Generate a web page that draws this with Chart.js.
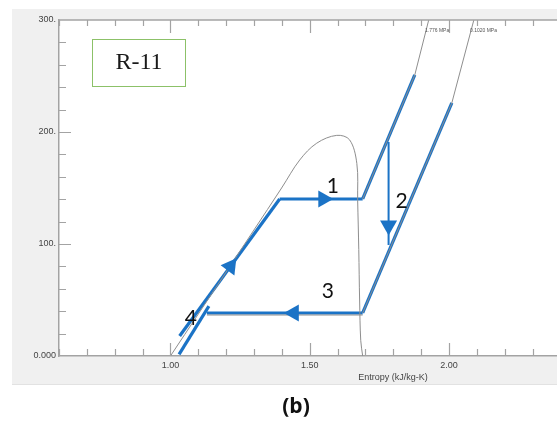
<!DOCTYPE html>
<html>
<head>
<meta charset="utf-8">
<script src="https://cdn.jsdelivr.net/npm/chart.js@4.4.0/dist/chart.umd.min.js"></script>
<style>
  html, body { margin: 0; padding: 0; background: #fff; }
  #wrap { position: relative; width: 557px; height: 421px; }
</style>
</head>
<body>
<div id="wrap"><canvas id="chart" width="557" height="421"></canvas></div>
<script>
// saturation dome (entropy kJ/kg-K, temperature)
const domeS = [1.0, 1.2, 1.399, 1.464, 1.525, 1.597, 1.643, 1.669, 1.672, 1.676, 1.679, 1.683, 1.69];
const domeT = [0, 75, 150, 175, 190, 197, 193, 172, 139, 95, 50, 14, 0];

// isobars (gray)
const iso1S = [1.69, 1.877, 1.927];
const iso1T = [140.2, 250.9, 300];
const iso2S = [1.69, 2.01, 2.089];
const iso2T = [38.4, 225.9, 300];
const isoFloorS = [1.131, 1.69];
const isoFloorT = [36.6, 36.6];

// cycle (blue)
const liquidS = [1.033, 1.392];
const liquidT = [17.9, 140.2];
const evapS = [1.392, 1.69];
const evapT = [140.2, 140.2];
const superS = [1.69, 1.877];
const superT = [140.2, 250.9];
const dropS = [1.783, 1.783];
const dropT = [191.1, 99.1];
const hotS = [1.69, 2.01];
const hotT = [38.4, 225.9];
const condS = [1.69, 1.131];
const condT = [38.4, 38.4];
const returnS = [1.031, 1.138];
const returnT = [1.5, 44.6];

// ticks
const xTickValues = [1.0, 1.5, 2.0];
const xTickLabels = ['1.00', '1.50', '2.00'];
const yTickValues = [0, 100, 200, 300];
const yTickLabels = ['0.000', '100.', '200.', '300.'];

const BLUE = '#1b73c6';
const GRAY = '#8e8e8e';
const AXIS = '#a3a3a3';

function pts(xs, ys) {
  return xs.map((x, i) => ({ x: x, y: ys[i] }));
}

function line(xs, ys, color, width, tension) {
  return {
    data: pts(xs, ys),
    showLine: true,
    borderColor: color,
    borderWidth: width,
    pointRadius: 0,
    tension: tension || 0,
    fill: false
  };
}

const datasets = [
  line(domeS, domeT, GRAY, 1, 0.35),
  line(iso1S, iso1T, GRAY, 1),
  line(iso2S, iso2T, GRAY, 1),
  line(isoFloorS, isoFloorT, GRAY, 1),
  line(liquidS, liquidT, BLUE, 3.2),
  line(evapS, evapT, BLUE, 3.2),
  line(superS, superT, BLUE, 3.2),
  line(dropS, dropT, BLUE, 2),
  line(hotS, hotT, BLUE, 3.2),
  line(condS, condT, BLUE, 3.2),
  line(returnS, returnT, BLUE, 3.2)
];

// arrow heads: dataset index and fraction along it
const arrows = [
  { ds: 4, t: 0.52 },
  { ds: 5, t: 0.55 },
  { ds: 7, t: 0.83 },
  { ds: 9, t: 0.455 }
];

const stateLabels = [
  { text: '1', s: 1.583, t: 152 },
  { text: '2', s: 1.83, t: 138 },
  { text: '3', s: 1.565, t: 58 },
  { text: '4', s: 1.073, t: 34 }
];

const decor = {
  id: 'decor',
  beforeDraw(chart) {
    const ctx = chart.ctx;
    const a = chart.chartArea;
    ctx.save();
    ctx.fillStyle = '#ffffff';
    ctx.fillRect(0, 0, chart.width, chart.height);
    ctx.fillStyle = '#f0f0f0';
    ctx.fillRect(12, 9, chart.width - 12, 376);
    ctx.fillStyle = '#e2e2e2';
    ctx.fillRect(12, 384, chart.width - 12, 1);
    ctx.fillStyle = '#ffffff';
    ctx.fillRect(a.left, a.top, a.right - a.left, a.bottom - a.top);
    ctx.restore();
  },
  afterDatasetsDraw(chart) {
    const ctx = chart.ctx;
    const xs = chart.scales.x;
    const ys = chart.scales.y;
    ctx.save();

    // arrows
    ctx.fillStyle = BLUE;
    arrows.forEach(ar => {
      const d = chart.data.datasets[ar.ds].data;
      const x0 = xs.getPixelForValue(d[0].x), y0 = ys.getPixelForValue(d[0].y);
      const x1 = xs.getPixelForValue(d[1].x), y1 = ys.getPixelForValue(d[1].y);
      const len = Math.hypot(x1 - x0, y1 - y0);
      const ux = (x1 - x0) / len, uy = (y1 - y0) / len;
      const cx = x0 + (x1 - x0) * ar.t, cy = y0 + (y1 - y0) * ar.t;
      const tipX = cx + ux * 8, tipY = cy + uy * 8;
      const bx = cx - ux * 7, by = cy - uy * 7;
      ctx.beginPath();
      ctx.moveTo(tipX, tipY);
      ctx.lineTo(bx - uy * 8.5, by + ux * 8.5);
      ctx.lineTo(bx + uy * 8.5, by - ux * 8.5);
      ctx.closePath();
      ctx.fill();
    });

    // state numbers
    ctx.fillStyle = '#111';
    ctx.font = '21px Lato, "Open Sans", sans-serif';
    ctx.textAlign = 'center';
    ctx.textBaseline = 'middle';
    stateLabels.forEach(l => {
      ctx.fillText(l.text, xs.getPixelForValue(l.s), ys.getPixelForValue(l.t));
    });

    // pressure labels on isobars
    ctx.fillStyle = '#555';
    ctx.font = '5px "Liberation Sans", sans-serif';
    ctx.textAlign = 'left';
    ctx.fillText('1.776 MPa', 425, 31);
    ctx.fillText('0.1020 MPa', 470, 31);

    // refrigerant box
    ctx.fillStyle = '#ffffff';
    ctx.fillRect(92, 39, 94, 48);
    ctx.strokeStyle = '#8cc168';
    ctx.lineWidth = 1;
    ctx.strokeRect(92.5, 39.5, 93, 47);
    ctx.fillStyle = '#1a1a1a';
    ctx.font = '24px "Liberation Serif", serif';
    ctx.textAlign = 'center';
    ctx.fillText('R-11', 139, 63);
    ctx.restore();
  },
  afterDraw(chart) {
    const ctx = chart.ctx;
    const xs = chart.scales.x;
    const ys = chart.scales.y;
    const a = chart.chartArea;
    ctx.save();
    ctx.strokeStyle = AXIS;
    ctx.lineWidth = 1.5;
    // top border
    ctx.beginPath();
    ctx.moveTo(a.left, a.top);
    ctx.lineTo(a.right, a.top);
    ctx.stroke();
    ctx.lineWidth = 1.2;
    ctx.beginPath();
    // x ticks on bottom and top, pointing inward
    for (let i = 6; i <= 23; i++) {
      const v = i / 10;
      const px = Math.round(xs.getPixelForValue(v)) + 0.5;
      const major = i % 5 === 0;
      ctx.moveTo(px, a.bottom);
      ctx.lineTo(px, a.bottom - (major ? 13 : 7));
      ctx.moveTo(px, a.top);
      ctx.lineTo(px, a.top + (major ? 13 : 6));
    }
    // y ticks pointing inward
    for (let v = 20; v < 300; v += 20) {
      const py = Math.round(ys.getPixelForValue(v)) + 0.5;
      const major = v % 100 === 0;
      ctx.moveTo(a.left, py);
      ctx.lineTo(a.left + (major ? 12 : 7), py);
    }
    ctx.stroke();

    // axis title
    ctx.fillStyle = '#444';
    ctx.font = '9px "Liberation Sans Narrow", "Liberation Sans", sans-serif';
    ctx.textAlign = 'center';
    ctx.textBaseline = 'middle';
    ctx.fillText('Entropy (kJ/kg-K)', 393, 378);

    // panel caption
    ctx.fillStyle = '#111';
    ctx.font = 'bold 21px "Open Sans", "Liberation Sans", sans-serif';
    ctx.fillText('(b)', 296, 407);
    ctx.restore();
  }
};

const ctx = document.getElementById('chart').getContext('2d');

new Chart(ctx, {
  type: 'scatter',
  data: { datasets: datasets },
  options: {
    responsive: false,
    animation: false,
    devicePixelRatio: 1,
    layout: { padding: { top: 20, left: 0, right: 0, bottom: 0 } },
    plugins: {
      legend: { display: false },
      tooltip: { enabled: false }
    },
    scales: {
      x: {
        type: 'linear',
        min: 0.6,
        max: 2.3875,
        grid: { display: false, drawTicks: false },
        border: { display: true, color: AXIS, width: 1.5 },
        afterBuildTicks: (scale) => {
          scale.ticks = xTickValues.map(v => ({ value: v }));
        },
        afterFit: (scale) => {
          scale.height = 65;
          scale.paddingLeft = 0;
          scale.paddingRight = 0;
        },
        ticks: {
          autoSkip: false,
          maxRotation: 0,
          padding: 4,
          color: '#444',
          font: { family: '"Liberation Sans Narrow", "Liberation Sans", sans-serif', size: 9 },
          callback: (value) => {
            const i = xTickValues.indexOf(value);
            return i >= 0 ? xTickLabels[i] : '';
          }
        }
      },
      y: {
        type: 'linear',
        min: 0,
        max: 300,
        grid: { display: false, drawTicks: false },
        border: { display: true, color: AXIS, width: 1.5 },
        afterBuildTicks: (scale) => {
          scale.ticks = yTickValues.map(v => ({ value: v }));
        },
        afterFit: (scale) => {
          scale.width = 59;
        },
        ticks: {
          autoSkip: false,
          padding: 3,
          color: '#444',
          font: { family: '"Liberation Sans Narrow", "Liberation Sans", sans-serif', size: 9 },
          callback: (value) => {
            const i = yTickValues.indexOf(value);
            return i >= 0 ? yTickLabels[i] : '';
          }
        }
      }
    }
  },
  plugins: [decor]
});
</script>
</body>
</html>
